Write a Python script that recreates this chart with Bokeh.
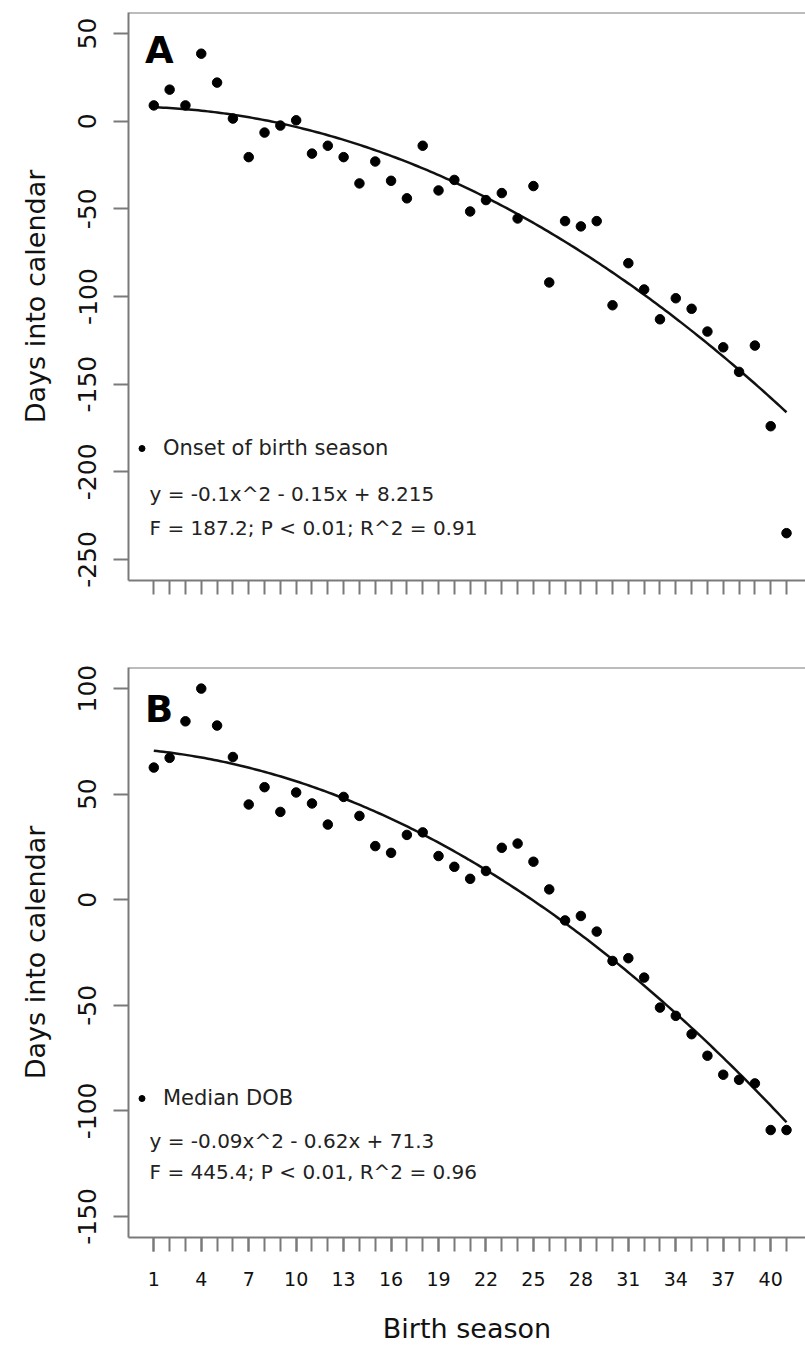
from bokeh.plotting import figure
from bokeh.layouts import column
from bokeh.models import FixedTicker, Span, Label, Range1d, Legend, LegendItem
from bokeh.embed import file_html
from bokeh.resources import INLINE
import numpy as np

# ---------------- data ----------------
season = list(range(1, 42))
onset = [9, 18, 9, 38.5, 22, 1.5, -20.5, -6.5, -2.5, 0.5,
         -18.5, -14, -20.5, -35.5, -23, -34, -44, -14, -39.5, -33.5,
         -51.5, -45, -41, -55.5, -37, -92, -57, -60, -57, -105,
         -81, -96, -113, -101, -107, -120, -129, -143, -128, -174, -235]
median_dob = [62.6, 67.2, 84.5, 100, 82.5, 67.6, 45.1, 53.3, 41.6, 50.8,
              45.6, 35.6, 48.7, 39.7, 25.4, 22.2, 30.7, 31.9, 20.7, 15.6,
              9.9, 13.6, 24.6, 26.6, 18.0, 4.9, -9.8, -7.7, -15.1, -29.0,
              -27.7, -36.9, -51.1, -55.0, -63.7, -73.9, -82.9, -85.3, -87.0, -109.1, -109.1]
coef_a = [-0.1, -0.15, 8.215]
coef_b = [-0.09, -0.62, 71.3]
yticks_a = [50, 0, -50, -100, -150, -200, -250]
yticks_b = [100, 50, 0, -50, -100, -150]
xtick_labels = [1, 4, 7, 10, 13, 16, 19, 22, 25, 28, 31, 34, 37, 40]
legend_a = "Onset of birth season"
legend_b = "Median DOB"
eq_a = ["y = -0.1x^2 - 0.15x + 8.215", "F = 187.2; P < 0.01; R^2 = 0.91"]
eq_b = ["y = -0.09x^2 - 0.62x + 71.3", "F = 445.4; P < 0.01, R^2 = 0.96"]

FONT = "DejaVu Sans"
GREY = "#7a7a7a"
INK = "#111111"


def make_panel(yvals, coef, yticks, ylim, height, top, bottom, letter, letter_y,
               leg_label, leg_bottom, eq_lines, eq_ys, show_xlabels):
    p = figure(width=805, height=height, x_range=Range1d(-0.6, 42.2),
               y_range=Range1d(*ylim), output_backend="svg", toolbar_location=None,
               min_border_left=128, min_border_right=0, min_border_top=top,
               min_border_bottom=bottom)
    p.outline_line_color = None
    p.grid.visible = False
    p.background_fill_color = "white"

    # y axis
    ya = p.yaxis[0]
    ya.ticker = FixedTicker(ticks=yticks, minor_ticks=[])
    ya.major_label_overrides = {t: str(t) for t in yticks}
    ya.major_label_orientation = "vertical"
    ya.major_label_text_font = FONT
    ya.major_label_text_font_size = "25px"
    ya.major_label_text_color = INK
    ya.major_label_standoff = 17
    ya.major_tick_in = 0
    ya.major_tick_out = 15
    ya.major_tick_line_color = GREY
    ya.major_tick_line_width = 2
    ya.axis_line_color = GREY
    ya.axis_line_width = 2
    ya.axis_label = "Days into calendar"
    ya.axis_label_text_font = FONT
    ya.axis_label_text_font_style = "normal"
    ya.axis_label_text_font_size = "27px"
    ya.axis_label_text_color = INK
    ya.axis_label_standoff = 25

    # x axis
    xa = p.xaxis[0]
    xa.ticker = FixedTicker(ticks=xtick_labels if show_xlabels else [], minor_ticks=season)
    xa.major_tick_in = 0
    xa.major_tick_out = 14
    xa.minor_tick_in = 0
    xa.minor_tick_out = 14
    xa.major_tick_line_color = GREY
    xa.minor_tick_line_color = GREY
    xa.major_tick_line_width = 2
    xa.minor_tick_line_width = 2
    xa.axis_line_color = GREY
    xa.axis_line_width = 2
    xa.major_label_text_font = FONT
    xa.major_label_text_font_size = "19px"
    xa.major_label_text_color = INK
    xa.major_label_standoff = 20
    if show_xlabels:
        xa.axis_label = "Birth season"
        xa.axis_label_text_font = FONT
        xa.axis_label_text_font_style = "normal"
        xa.axis_label_text_font_size = "27px"
        xa.axis_label_text_color = INK
        xa.axis_label_standoff = 24
    else:
        xa.major_label_text_font_size = "0px"

    # top border line
    p.add_layout(Span(location=ylim[1], dimension="width", line_color=GREY, line_width=2))

    # fitted curve (from the printed regression coefficients)
    xs = np.linspace(season[0], season[-1], 200)
    ys = np.polyval(coef, xs)
    p.line(xs, ys, line_color=INK, line_width=2.5)

    # points
    pts = p.scatter(season, yvals, size=9.5, color="black")

    # panel letter
    p.add_layout(Label(x=0.45, y=letter_y, text=letter, text_font=FONT,
                       text_font_style="bold", text_font_size="37px",
                       text_color="black", text_baseline="alphabetic"))

    # legend
    leg = Legend(items=[LegendItem(label=leg_label, renderers=[pts])],
                 location=(6, leg_bottom), orientation="vertical",
                 border_line_color=None, background_fill_alpha=0,
                 padding=0, margin=0, glyph_width=15, glyph_height=24,
                 label_standoff=14, label_height=24,
                 label_text_font=FONT, label_text_font_size="21px",
                 label_text_color="#222222")
    p.add_layout(leg)

    for txt, yy in zip(eq_lines, eq_ys):
        p.add_layout(Label(x=0.73, y=yy, text=txt, text_font=FONT,
                           text_font_size="20px", text_color="#222222",
                           text_baseline="middle"))
    return p


pa = make_panel(onset, coef_a, yticks_a, (-262, 62), 620, 12, 40, "A", 40.3,
                legend_a, 120, eq_a, [-212.4, -231.8], False)
pb = make_panel(median_dob, coef_b, yticks_b, (-160, 110), 731, 47, 114, "B", 90.2,
                legend_b, 127, eq_b, [-114.5, -129.2], True)

layout = column(pa, pb, spacing=0)
open("out.html", "w").write(file_html(layout, INLINE))
